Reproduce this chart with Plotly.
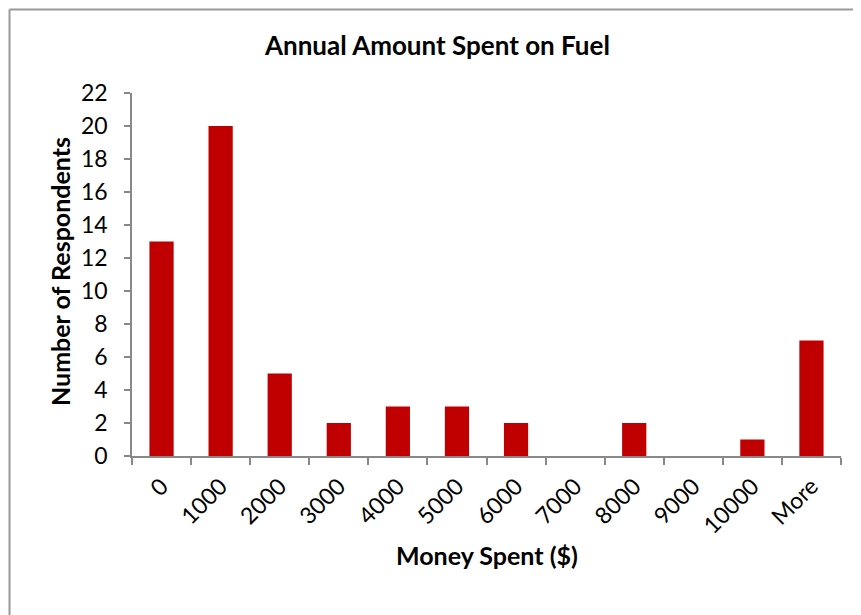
import plotly.graph_objects as go

categories = ["0", "1000", "2000", "3000", "4000", "5000", "6000", "7000", "8000", "9000", "10000", "More"]
respondents = [13, 20, 5, 2, 3, 3, 2, 0, 2, 0, 1, 7]
y_ticks = list(range(0, 23, 2))

OFF = 8  # page body margin
W, H = 861 - OFF, 615 - OFF
L, R, T, B = 132 - OFF, 20, 93 - OFF, 159
pw, ph = W - L - R, H - T - B

def px(x):
    return (x - OFF - L) / pw

def py(y):
    return (H - B - (y - OFF)) / ph

font = "Lato, 'Open Sans', sans-serif"

fig = go.Figure(go.Bar(x=categories, y=respondents, marker=dict(color="#C00000", line=dict(width=0))))

fig.update_layout(
    width=W, height=H,
    margin=dict(l=L, r=R, t=T, b=B),
    paper_bgcolor="white", plot_bgcolor="white",
    bargap=0.59,
    showlegend=False,
    font=dict(family=font, color="black"),
    xaxis=dict(
        type="category", tickangle=-45, tickson="boundaries",
        ticks="outside", ticklen=7, tickcolor="#888888", tickwidth=1.5,
        showline=True, linecolor="#888888", linewidth=1.5,
        showgrid=False, tickfont=dict(size=23, family=font),
        ticklabelstandoff=6,
        range=[-0.5, 11.5],
    ),
    yaxis=dict(
        range=[0, 22], tickvals=y_ticks, ticks="outside", ticklen=6,
        tickcolor="#888888", tickwidth=1.5,
        showline=True, linecolor="#888888", linewidth=1.5,
        showgrid=False, zeroline=False, tickfont=dict(size=23, family=font),
        ticklabelstandoff=12,
    ),
    annotations=[
        dict(text="<b>Annual Amount Spent on Fuel</b>", x=px(437), y=py(45), xref="paper", yref="paper",
             showarrow=False, font=dict(size=26, family=font), xanchor="center", yanchor="middle"),
        dict(text="<b>Money Spent ($)</b>", x=px(487), y=py(555), xref="paper", yref="paper",
             showarrow=False, font=dict(size=25, family=font), xanchor="center", yanchor="middle"),
        dict(text="<b>Number of Respondents</b>", x=px(60), y=py(272), xref="paper", yref="paper",
             showarrow=False, font=dict(size=25, family=font), textangle=-90, xanchor="center", yanchor="middle"),
    ],
    shapes=[
        dict(type="line", xref="paper", yref="paper", x0=px(9.5), x1=px(9.5), y0=py(9.5), y1=py(630),
             line=dict(color="#999999", width=2)),
        dict(type="line", xref="paper", yref="paper", x0=px(9.5), x1=px(880), y0=py(9.5), y1=py(9.5),
             line=dict(color="#999999", width=2)),
    ],
)

fig.write_html("out.html")
